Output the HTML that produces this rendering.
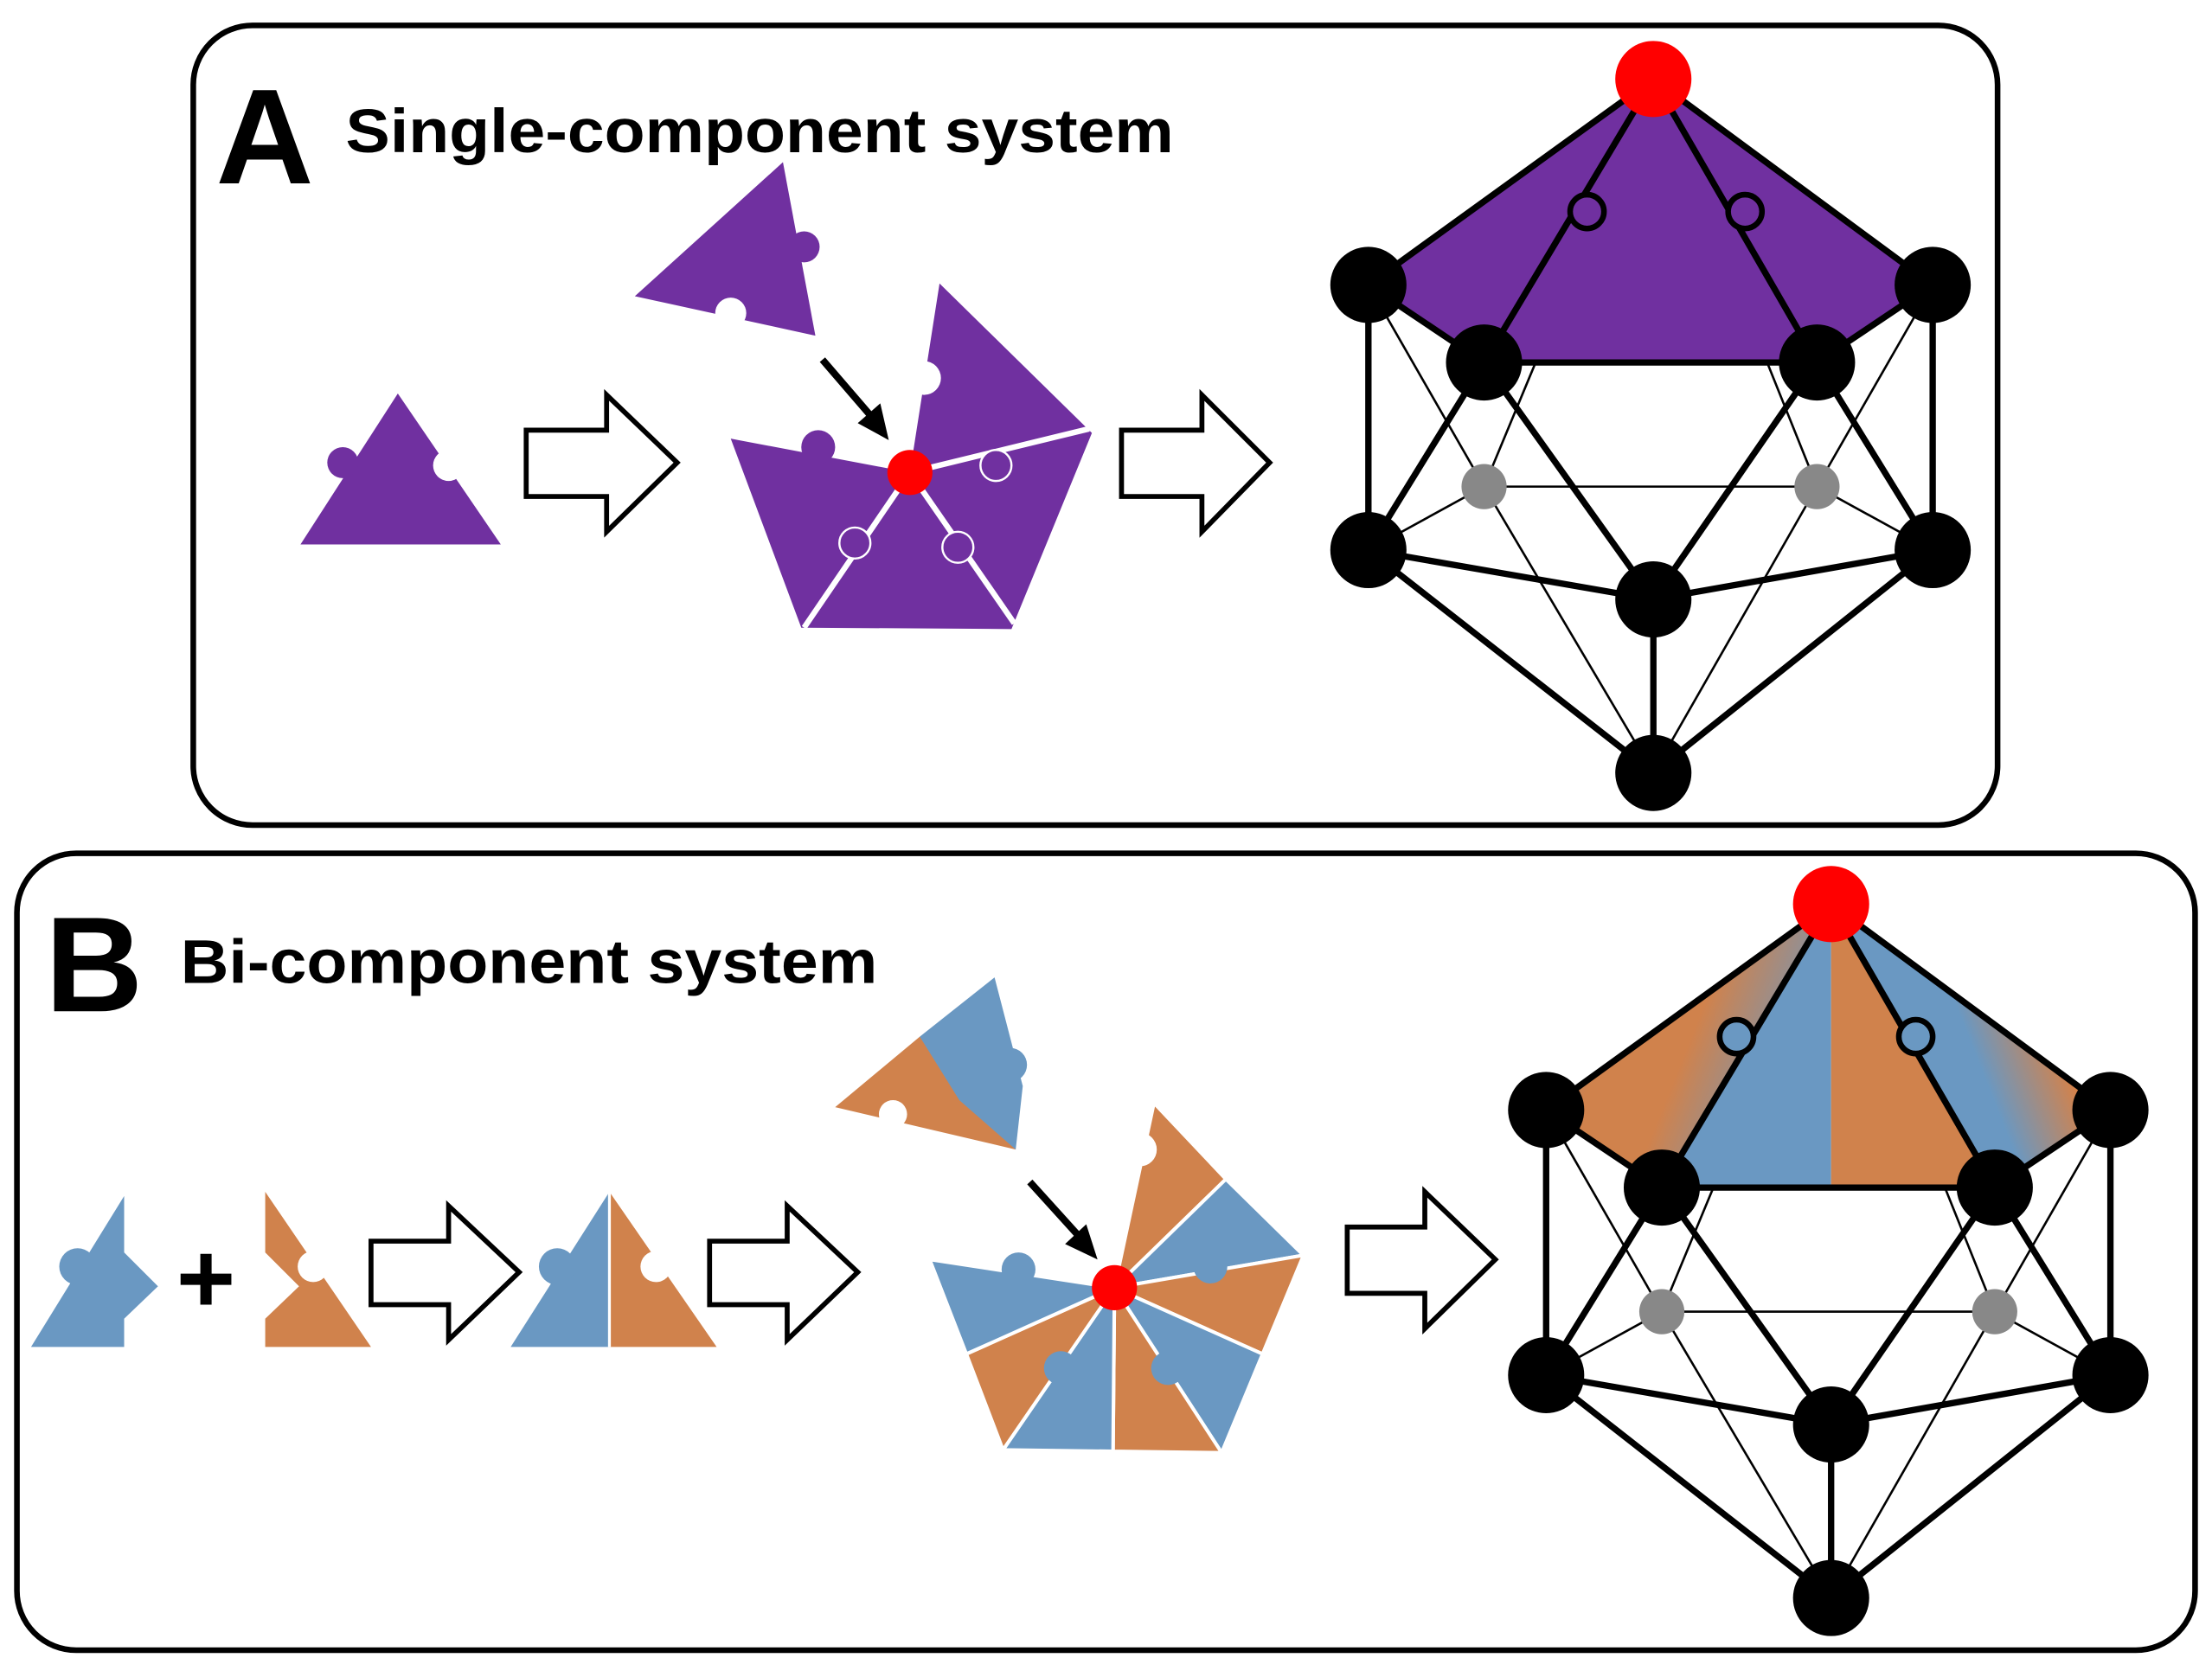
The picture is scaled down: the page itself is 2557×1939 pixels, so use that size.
<!DOCTYPE html>
<html><head><meta charset="utf-8"><style>
html,body{margin:0;padding:0;background:#fff;}
svg{display:block;}
</style></head><body>
<svg width="2557" height="1939" viewBox="0 0 1568 1189" xmlns="http://www.w3.org/2000/svg">
<defs>
<linearGradient id="gl" x1="0" y1="0" x2="1" y2="0.4">
<stop offset="0" stop-color="#6a98c2"/><stop offset="0.35" stop-color="#d0824c"/><stop offset="0.6" stop-color="#d0824c"/><stop offset="1" stop-color="#6a98c2"/></linearGradient>
<linearGradient id="gr" x1="0" y1="0.4" x2="1" y2="0">
<stop offset="0" stop-color="#6a98c2"/><stop offset="0.4" stop-color="#6a98c2"/><stop offset="0.7" stop-color="#e07f3c"/><stop offset="1" stop-color="#e07f3c"/></linearGradient>
<g id="ico">
<g stroke="#000" stroke-width="1.6">
<line x1="1172" y1="56" x2="1052" y2="345"/><line x1="1172" y1="56" x2="1288" y2="345"/>
<line x1="970" y1="202" x2="1052" y2="345"/><line x1="1370" y1="202" x2="1288" y2="345"/>
<line x1="1052" y1="345" x2="1288" y2="345"/><line x1="1052" y1="345" x2="970" y2="390"/>
<line x1="1288" y1="345" x2="1370" y2="390"/><line x1="1052" y1="345" x2="1172" y2="548"/>
<line x1="1288" y1="345" x2="1172" y2="548"/>
</g>
</g>
<g id="icoT" stroke="#000" stroke-width="4.5" fill="none">
<line x1="1172" y1="56" x2="970" y2="202"/><line x1="1172" y1="56" x2="1370" y2="202"/>
<line x1="1172" y1="56" x2="1052" y2="257"/><line x1="1172" y1="56" x2="1288" y2="257"/>
<line x1="970" y1="202" x2="1052" y2="257"/><line x1="1052" y1="257" x2="1288" y2="257"/><line x1="1288" y1="257" x2="1370" y2="202"/>
<line x1="970" y1="202" x2="970" y2="390"/><line x1="1370" y1="202" x2="1370" y2="390"/>
<line x1="1052" y1="257" x2="970" y2="390"/><line x1="1052" y1="257" x2="1172" y2="425"/>
<line x1="1288" y1="257" x2="1172" y2="425"/><line x1="1288" y1="257" x2="1370" y2="390"/>
<line x1="970" y1="390" x2="1172" y2="425"/><line x1="1370" y1="390" x2="1172" y2="425"/>
<line x1="970" y1="390" x2="1172" y2="548"/><line x1="1370" y1="390" x2="1172" y2="548"/>
<line x1="1172" y1="425" x2="1172" y2="548"/>
</g>
<g id="icoN">
<g fill="#000"><circle cx="970" cy="202" r="27"/><circle cx="1370" cy="202" r="27"/><circle cx="1052" cy="257" r="27"/><circle cx="1288" cy="257" r="27"/>
<circle cx="970" cy="390" r="27"/><circle cx="1370" cy="390" r="27"/><circle cx="1172" cy="425" r="27"/><circle cx="1172" cy="548" r="27"/></g>
<g fill="#888"><circle cx="1052" cy="345" r="16"/><circle cx="1288" cy="345" r="16"/></g>
<circle cx="1172" cy="56" r="27" fill="#ff0000"/>
</g>
</defs>

<rect x="137" y="18" width="1279" height="567" rx="42" fill="#fff" stroke="#000" stroke-width="4"/>
<rect x="12" y="605" width="1544" height="565" rx="42" fill="#fff" stroke="#000" stroke-width="4"/>

<g font-family="Liberation Sans, sans-serif" font-weight="bold">
<text x="153" y="130" font-size="96">A</text>
<text x="245" y="108" font-size="44" textLength="587" lengthAdjust="spacingAndGlyphs">Single-component system</text>
<text x="32" y="717" font-size="96">B</text>
<text x="128" y="697" font-size="44" textLength="494" lengthAdjust="spacingAndGlyphs">Bi-component system</text>
</g>

<!-- Icosahedron A -->
<use href="#ico"/>
<polygon points="970,202 1172,56 1370,202 1288,257 1052,257" fill="#7030a0"/>
<use href="#icoT"/>
<circle cx="1125" cy="150" r="12" fill="#7030a0" stroke="#000" stroke-width="4"/>
<circle cx="1237" cy="150" r="12" fill="#7030a0" stroke="#000" stroke-width="4"/>
<use href="#icoN"/>

<!-- Icosahedron B -->
<g transform="translate(126,585)">
<use href="#ico"/>
<polygon points="970,202 1172,56 1052,257" fill="url(#gl)"/>
<polygon points="1172,56 1052,257 1172,257" fill="#6a98c2"/>
<polygon points="1172,56 1288,257 1172,257" fill="#d0824c"/>
<polygon points="1172,56 1370,202 1288,257" fill="url(#gr)"/>
<use href="#icoT"/>
<circle cx="1105" cy="150" r="12" fill="#6a98c2" stroke="#000" stroke-width="4"/>
<circle cx="1232" cy="150" r="12" fill="#6a98c2" stroke="#000" stroke-width="4"/>
<use href="#icoN"/>
</g>

<!-- Hollow arrows -->
<g fill="#fff" stroke="#000" stroke-width="3.5" stroke-linejoin="miter">
<path d="M373,305 L430,305 L430,280 L480,328 L430,377 L430,352 L373,352 Z"/>
<path d="M795,305 L852,305 L852,280 L900,328 L852,377 L852,352 L795,352 Z"/>
<path d="M263,880 L318,880 L318,855 L368,902 L318,950 L318,925 L263,925 Z"/>
<path d="M503,880 L558,880 L558,855 L608,902 L558,950 L558,925 L503,925 Z"/>
<path d="M955,870 L1010,870 L1010,845 L1060,893 L1010,942 L1010,917 L955,917 Z"/>
</g>

<!-- A pieces -->
<polygon points="213,386 282,279 355,386" fill="#7030a0"/>
<circle cx="243" cy="328" r="11" fill="#7030a0"/>
<circle cx="318" cy="330" r="11" fill="#fff"/>
<polygon points="450,210 555,115 578,238" fill="#7030a0"/>
<circle cx="570" cy="175" r="11" fill="#7030a0"/>
<circle cx="518" cy="222" r="11" fill="#fff"/>
<polygon points="518,311 645,335 666,201 774,307 717,446 568,445" fill="#7030a0"/>
<g stroke="#fff" stroke-width="4">
<line x1="645" y1="335" x2="570" y2="445"/><line x1="645" y1="335" x2="719" y2="442"/>
<line x1="645" y1="335" x2="772" y2="304"/>
</g>
<circle cx="580" cy="317" r="12" fill="#7030a0"/><circle cx="655" cy="268" r="12" fill="#fff"/>
<circle cx="706" cy="330" r="11" fill="#7030a0" stroke="#fff" stroke-width="1.5"/>
<circle cx="606" cy="385" r="11" fill="#7030a0" stroke="#fff" stroke-width="1.5"/>
<circle cx="679" cy="388" r="11" fill="#7030a0" stroke="#fff" stroke-width="1.5"/>
<line x1="583" y1="255" x2="620" y2="298" stroke="#000" stroke-width="5"/>
<polygon points="630,312 608,300 624,286" fill="#000"/>
<circle cx="645" cy="335" r="16" fill="#ff0000"/>

<!-- B pieces -->
<polygon points="22,955 88,848 88,888 112,912 88,935 88,955" fill="#6a98c2"/>
<circle cx="55" cy="898" r="13" fill="#6a98c2"/>
<path d="M128,907 h36 M146,889 v36" stroke="#000" stroke-width="8"/>
<polygon points="188,845 263,955 188,955 188,935 212,912 188,888" fill="#d0824c"/>
<circle cx="222" cy="898" r="11" fill="#fff"/>
<polygon points="362,955 432,845 432,955" fill="#6a98c2"/>
<polygon points="432,845 508,955 432,955" fill="#d0824c"/>
<circle cx="395" cy="898" r="13" fill="#6a98c2"/>
<circle cx="465" cy="898" r="11" fill="#fff"/>
<line x1="432" y1="845" x2="432" y2="955" stroke="#fff" stroke-width="2"/>
<polygon points="592,785 652,735 705,760 720,815" fill="#d0824c"/>
<polygon points="652,735 705,693 725,770 720,815 680,780" fill="#6a98c2"/>
<circle cx="716" cy="755" r="12" fill="#6a98c2"/>
<circle cx="633" cy="790" r="10" fill="#fff"/>
<g stroke="#fff" stroke-width="2.5">
<polygon points="790,913 818,782 869,836" fill="#d0824c"/>
<polygon points="790,913 869,836 924,890" fill="#6a98c2"/>
<polygon points="790,913 924,890 895,960" fill="#d0824c"/>
<polygon points="790,913 895,960 866,1030" fill="#6a98c2"/>
<polygon points="790,913 866,1030 789,1029" fill="#d0824c"/>
<polygon points="790,913 789,1029 711,1028" fill="#6a98c2"/>
<polygon points="790,913 711,1028 685,960" fill="#d0824c"/>
<polygon points="790,913 685,960 659,893" fill="#6a98c2"/>
</g>
<circle cx="722" cy="900" r="12" fill="#6a98c2"/><circle cx="808" cy="815" r="12" fill="#fff"/>
<circle cx="858" cy="898" r="12" fill="#6a98c2"/><circle cx="828" cy="970" r="12" fill="#6a98c2"/>
<circle cx="752" cy="970" r="12" fill="#6a98c2"/>
<line x1="730" y1="838" x2="768" y2="880" stroke="#000" stroke-width="5"/>
<polygon points="778,893 755,882 770,868" fill="#000"/>
<circle cx="790" cy="913" r="16" fill="#ff0000"/>
</svg>
</body></html>
